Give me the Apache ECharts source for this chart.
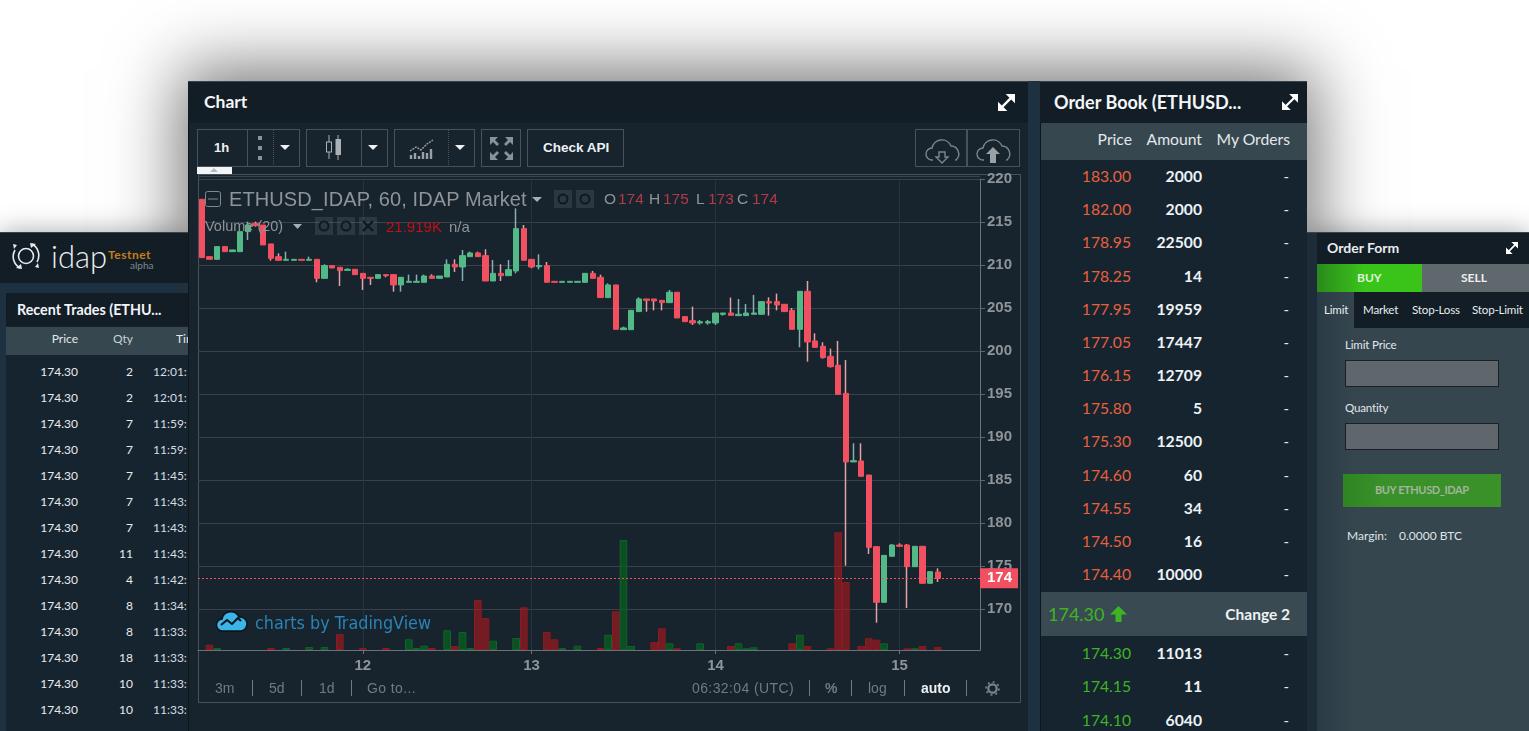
<!DOCTYPE html>
<html>
<head>
<meta charset="utf-8">
<script src="https://cdn.jsdelivr.net/npm/echarts@6/dist/echarts.min.js"></script>
<style>
html,body{margin:0;padding:0;background:#fff;}
#page{position:relative;width:1529px;height:731px;overflow:hidden;background:#fff;font-family:Lato,sans-serif;}
.box{position:absolute;box-sizing:border-box;}
.t{position:absolute;white-space:nowrap;line-height:1;}
#chart{position:absolute;left:0;top:0;width:1529px;height:731px;}
svg{position:absolute;overflow:visible;}
</style>
</head>
<body>
<div id="page"><div id="under"></div><div id="chart"></div><div id="over"></div></div>
<script>
// candles, hourly, from the left edge of the plot
var opens = [217.64,210.97,210.66,212.14,211.55,211.55,213.88,214.85,214.65,212.45,210.97,210.55,210.55,210.66,210.55,210.66,208.45,209.93,209.73,209.38,209.50,209.03,208.57,208.45,208.88,208.88,207.68,207.99,207.99,207.99,208.72,208.45,208.61,210.08,209.77,210.97,211.40,211.09,208.14,209.03,208.76,209.31,214.23,210.66,209.81,209.93,208.10,207.99,207.99,207.99,207.99,209.03,208.57,206.21,207.68,202.48,202.48,204.58,206.05,206.05,205.89,205.62,206.83,204.00,203.53,203.26,203.26,203.26,204.27,204.42,204.11,204.11,204.27,204.27,205.74,205.74,205.43,204.73,202.52,206.94,201.17,200.55,199.38,198.34,195.08,187.10,187.21,185.58,177.25,170.78,176.13,177.44,177.44,174.92,177.29,172.99,174.30];
var closes = [210.86,210.66,212.14,211.55,211.75,213.88,214.65,214.58,212.33,210.78,210.55,210.66,210.66,210.55,210.66,208.45,209.93,209.65,209.34,209.50,208.88,208.45,208.45,208.88,208.76,207.68,208.57,208.10,208.10,208.72,208.45,208.72,210.08,209.77,211.09,211.40,210.97,208.14,209.03,208.76,209.46,214.23,210.55,209.77,209.93,207.99,207.99,208.10,208.10,208.10,209.03,208.45,206.21,207.68,202.52,202.68,204.73,206.05,205.89,205.82,205.62,206.83,203.84,203.41,203.26,203.41,203.41,204.42,204.42,204.15,204.27,204.42,204.42,205.74,205.58,205.35,204.58,202.52,206.94,201.05,200.43,199.23,198.18,194.96,187.10,187.25,185.43,177.17,170.78,176.24,177.44,177.29,174.92,177.29,172.99,174.34,173.57];
var lows = [210.86,210.66,210.66,211.55,211.55,211.55,212.91,214.46,212.33,210.51,210.55,210.55,210.55,210.55,210.55,207.99,208.45,209.65,207.56,209.38,208.88,207.10,207.68,208.45,208.57,206.90,206.90,207.99,207.99,207.99,208.45,208.45,208.61,209.19,208.14,210.97,210.97,208.14,208.14,208.14,208.76,209.03,210.55,209.62,209.50,207.99,207.99,207.99,207.99,207.99,207.99,208.45,206.21,206.21,202.52,202.48,202.48,204.58,204.58,204.73,204.73,205.62,203.84,203.41,203.03,203.07,203.07,203.03,204.11,204.15,204.11,204.11,204.27,204.27,204.11,204.73,204.58,202.52,200.43,198.76,200.43,199.11,198.07,194.96,175.04,187.10,185.43,176.40,168.41,170.78,176.13,177.29,170.12,174.92,172.99,172.99,173.14];
var highs = [217.64,210.97,212.14,212.14,211.75,213.88,215.04,215.04,214.65,212.45,211.36,211.55,210.66,210.66,210.97,210.66,210.08,209.93,209.73,209.62,209.50,209.03,208.57,208.88,208.88,208.88,208.57,208.88,208.88,208.88,208.92,208.72,210.66,210.66,211.75,211.55,211.55,211.83,210.58,210.08,210.58,216.59,214.65,210.66,211.24,210.35,208.10,208.10,208.10,208.10,209.03,209.31,208.88,207.87,207.68,202.83,204.73,206.24,206.05,206.05,205.89,207.10,206.83,204.00,205.16,203.61,203.61,204.42,204.42,206.21,206.05,205.47,206.52,205.74,206.24,206.67,205.43,205.00,206.94,208.14,202.06,201.01,200.27,201.17,198.96,189.27,189.27,185.58,177.25,176.24,177.56,177.64,177.56,177.29,177.29,174.34,174.73];
// volume in thousands, null where no bar shows
var volumes = [null,38.7,14.6,null,null,null,null,null,null,14.6,null,14.6,null,null,21.9,null,21.9,null,116.8,null,null,14.6,null,null,14.6,null,null,78.1,14.6,31.4,14.6,null,143.8,29.2,131.4,14.6,365,233.6,67.9,null,null,87.6,311.7,null,null,131.4,78.1,14.6,null,31.4,null,null,14.6,111.7,282.5,803,29.2,null,null,58.4,158.4,48.9,12.4,null,null,48.9,null,null,null,29.2,48.9,12.4,19.7,null,null,null,null,48.9,111.7,29.2,null,null,12.4,859.2,496.4,null,29.2,85.4,75.2,48.9,null,null,12.4,12.4,29.2,null,21.9];
var dayTicks = {21:'12',43:'13',67:'14',91:'15'};
var slotCount = 102;

var tradeQty = [2,2,7,7,7,7,7,11,4,8,8,18,10,10];
var tradeTimes = ['12:01:','12:01:','11:59:','11:59:','11:45:','11:43:','11:43:','11:43:','11:42:','11:34:','11:33:','11:33:','11:33:','11:33:'];
var askPrices = ['183.00','182.00','178.95','178.25','177.95','177.05','176.15','175.80','175.30','174.60','174.55','174.50','174.40'];
var askAmounts = [2000,2000,22500,14,19959,17447,12709,5,12500,60,34,16,10000];
var bidPrices = ['174.30','174.15','174.10'];
var bidAmounts = [11013,11,6040];

var under = document.getElementById('under');
var over = document.getElementById('over');

function box(parent, x, y, w, h, css) {
    var d = document.createElement('div');
    d.className = 'box';
    d.style.cssText = 'left:' + x + 'px;top:' + y + 'px;width:' + w + 'px;height:' + h + 'px;' + (css || '');
    parent.appendChild(d);
    return d;
}
// x is the left edge, or the right edge when alignRight is set; y is the text middle
function text(parent, str, x, y, css, alignRight) {
    var d = document.createElement('div');
    d.className = 't';
    d.textContent = str;
    d.style.cssText = (alignRight ? 'right:' + (1529 - x) : 'left:' + x) + 'px;top:' + y + 'px;transform:translateY(-50%);' + (css || '');
    parent.appendChild(d);
    return d;
}
function svg(parent, x, y, w, h, inner) {
    var s = document.createElementNS('http://www.w3.org/2000/svg', 'svg');
    s.setAttribute('width', w); s.setAttribute('height', h);
    s.setAttribute('viewBox', '0 0 ' + w + ' ' + h);
    s.style.left = x + 'px'; s.style.top = y + 'px';
    s.innerHTML = inner;
    parent.appendChild(s);
}
function expandIcon(parent, x, y, s) {
    svg(parent, x, y, s, s, '<g stroke="#fff" stroke-width="' + (s * 0.14) + '" fill="#fff"><line x1="' + s * 0.2 + '" y1="' + s * 0.8 + '" x2="' + s * 0.8 + '" y2="' + s * 0.2 + '"/></g>' +
        '<polygon fill="#fff" points="' + s * 0.45 + ',0 ' + s + ',0 ' + s + ',' + s * 0.55 + '"/><polygon fill="#fff" points="0,' + s * 0.45 + ' 0,' + s + ' ' + s * 0.55 + ',' + s + '"/>');
}
var EDGE = '#48525a', PANEL = '#17232d', HEAD = '#121d26', BAND = '#37474f', GAP = '#1e3140';

// shadow plate and panels
box(under, 188, 81, 1119, 700, 'background:#17232d;box-shadow:0 -4px 65px 8px rgba(0,0,0,.55);');
box(under, 0, 232, 188, 499, 'background:' + GAP + ';border-top:1px solid #3a444c;box-shadow:0 0 25px rgba(0,0,0,.35);');
box(under, 1307, 232, 222, 499, 'background:#1c2c39;border-top:1px solid #3a444c;box-shadow:0 0 25px rgba(0,0,0,.35);');

// left: logo and recent trades
box(under, 0, 233, 188, 50, 'background:' + HEAD + ';');
svg(under, 11, 241, 30, 30, '<circle cx="15" cy="15" r="7.5" fill="none" stroke="#e8eaec" stroke-width="1.6"/><path d="M4 9A13 13 0 0 0 9 27M26 21A13 13 0 0 0 21 3" fill="none" stroke="#e8eaec" stroke-width="1.6"/><path d="M2 3l4 1-3 4zM28 27l-4-1 3-4zM5 27l5-4 1 5zM25 3l-5 4-1-5z" fill="#e8eaec"/>');
text(under, 'idap', 51, 256, 'font:300 31px Lato;color:#eef0f1;');
text(under, 'Testnet', 108, 254, 'font:700 12px Lato;color:#c67f16;letter-spacing:.5px;');
text(under, 'alpha', 130, 265, 'font:400 10px Lato;color:#7f8a91;');
box(under, 6, 293, 182, 438, 'background:#162430;');
box(under, 6, 293, 182, 33, 'background:' + HEAD + ';');
box(under, 6, 327, 182, 28, 'background:' + BAND + ';');
text(under, 'Recent Trades (ETHU...', 17, 309, 'font:700 14.3px Lato;color:#f2f5f7;');
text(under, 'Price', 78, 338, 'font:400 12px Lato;color:#e3e8ec;', true);
text(under, 'Qty', 133, 338, 'font:400 12px Lato;color:#c9d0d5;', true);
text(under, 'Tim', 176, 338, 'font:400 12px Lato;color:#e3e8ec;');
tradeQty.forEach(function(q, i) {
    var y = 371 + 26 * i;
    text(under, '174.30', 78, y, 'font:400 12px Lato;color:#e6ebee;', true);
    text(under, String(q), 133, y, 'font:400 12px Lato;color:#e6ebee;', true);
    text(under, tradeTimes[i], 153, y, 'font:400 12px Lato;color:#d7dde1;');
});

// centre: chart panel chrome
box(under, 188, 81, 840, 650, 'background:' + PANEL + ';border-left:1px solid #0e161c;');
box(under, 188, 81, 840, 42, 'background:' + HEAD + ';border-top:1px solid #3a444c;');
text(under, 'Chart', 204, 101, 'font:700 17.5px Lato;color:#f4f6f8;');
expandIcon(under, 998, 94, 17);
box(under, 1028, 81, 12, 650, 'background:' + GAP + ';');

[[197, 103], [306, 82], [394, 81], [481, 40], [527, 97], [915, 52], [967, 53]].forEach(function(b) {
    box(under, b[0], 129, b[1], 38, 'border:1px solid ' + EDGE + ';');
});
[247, 361, 967].forEach(function(x) { box(under, x, 129, 1, 38, 'background:' + EDGE + ';'); });
[273, 448].forEach(function(x) { box(under, x, 129, 0, 38, 'border-left:1px dotted ' + EDGE + ';'); });
text(under, '1h', 214, 147, 'font:700 13px "Liberation Sans";color:#eef1f3;');
text(under, 'Check API', 543, 147, 'font:700 13.5px "Liberation Sans";color:#eef1f3;');
svg(under, 256, 136, 8, 24, '<rect x="2" width="4" height="4" fill="#8b9297"/><rect x="2" y="10" width="4" height="4" fill="#8b9297"/><rect x="2" y="20" width="4" height="4" fill="#8b9297"/>');
[285, 373, 460].forEach(function(x) { svg(under, x - 5, 145, 10, 5, '<polygon points="0,0 10,0 5,5" fill="#eef1f3"/>'); });
svg(under, 324, 135, 20, 26, '<path d="M5 0v7M5 17v7M14 0v4M14 20v5" stroke="#aab0b4"/><rect x="2.5" y="7" width="5" height="10" fill="none" stroke="#aab0b4"/><rect x="11.5" y="4" width="5.5" height="16" fill="#aab0b4"/>');
svg(under, 409, 138, 26, 22, '<path d="M1 13l6-4 5 3 6-6 6-4" fill="none" stroke="#9aa1a6" stroke-width="1.4" stroke-dasharray="2 1"/><path d="M2 21v-4M6 21v-6M10 21v-3M14 21v-7M18 21v-6M22 21v-10" stroke="#9aa1a6" stroke-width="2.4"/>');
svg(under, 490, 137, 23, 23, '<g fill="#8b9297"><polygon points="0,0 8,0 5,3 9,7 7,9 3,5 0,8"/><polygon points="23,0 15,0 18,3 14,7 16,9 20,5 23,8"/><polygon points="0,23 8,23 5,20 9,16 7,14 3,18 0,15"/><polygon points="23,23 15,23 18,20 14,16 16,14 20,18 23,15"/></g>');
var cloud = 'M8 24H7a6 6 0 0 1 0-12 10 10 0 0 1 19-2 8 8 0 0 1 5 14h-1';
svg(under, 925, 136, 34, 28, '<path d="' + cloud + '" fill="none" stroke="#7d858a" stroke-width="1.4"/><path d="M14 16h6v5h3l-6 6-6-6h3z" fill="none" stroke="#7d858a" stroke-width="1.4"/>');
svg(under, 976, 136, 34, 28, '<path d="' + cloud + '" fill="none" stroke="#7d858a" stroke-width="1.4"/><path d="M14 27v-9h-4l7-7 7 7h-4v9z" fill="#9aa1a6"/>');
box(under, 197, 167, 35, 7, 'background:#f4f5f6;');
svg(under, 210, 168, 8, 4, '<polygon points="0,4 8,4 4,0" fill="#b5b9bc"/>');
box(under, 198, 174, 823, 529, 'border:1px solid ' + EDGE + ';');
box(under, 199, 176, 781, 1, 'background:#3a424b;');

// over the plot: legend rows, watermark, footer
var dim = '#8f9498', redLegend = '#b33a47';
svg(over, 205, 191, 16, 16, '<rect x=".5" y=".5" width="15" height="15" rx="2" fill="none" stroke="#83888d"/><line x1="3" y1="8" x2="13" y2="8" stroke="#83888d"/>');
text(over, 'ETHUSD_IDAP, 60, IDAP Market', 229, 199, 'font:400 20px "Liberation Sans";color:' + dim + ';letter-spacing:.1px;');
svg(over, 532, 197, 10, 5, '<polygon points="0,0 10,0 5,5" fill="#a8adb1"/>');
[[554, 190], [576, 190], [315, 217], [337, 217], [359, 217]].forEach(function(b) {
    box(over, b[0], b[1], 18, 18, 'background:rgba(120,130,140,.22);');
});
[[563, 199], [585, 199], [324, 226], [346, 226]].forEach(function(c) {
    svg(over, c[0] - 6, c[1] - 6, 12, 12, '<circle cx="6" cy="6" r="4.5" fill="none" stroke="#11181f" stroke-width="2"/>');
});
svg(over, 362, 220, 12, 12, '<path d="M1 1L11 11M11 1L1 11" stroke="#11181f" stroke-width="2.4"/>');
var ohlc = [['O', 604, '174', 618], ['H', 649, '175', 663], ['L', 696, '173', 708], ['C', 737, '174', 752]];
ohlc.forEach(function(r) {
    text(over, r[0], r[1], 199, 'font:400 15.5px "Liberation Sans";color:' + dim + ';');
    text(over, r[2], r[3], 199, 'font:400 15.5px "Liberation Sans";color:' + redLegend + ';');
});
text(over, 'Volume (20)', 205, 226, 'font:400 14.5px "Liberation Sans";color:' + dim + ';');
svg(over, 293, 224, 9, 5, '<polygon points="0,0 9,0 4.5,5" fill="#a8adb1"/>');
text(over, '21.919K', 386, 226, 'font:400 15px "Liberation Sans";color:#c40f18;');
text(over, 'n/a', 449, 226, 'font:400 15px "Liberation Sans";color:' + dim + ';');
svg(over, 216, 610, 31, 22, '<path d="M7 21a6 6 0 0 1-1-12 9 9 0 0 1 17-2 7 7 0 0 1 2 14z" fill="#3bb4e8" stroke="#0a1318" stroke-width="1.5"/><path d="M5 15l6-5 5 4 6-6 3 3" fill="none" stroke="#0a1318" stroke-width="2"/>');
text(over, 'charts by TradingView', 255, 622, 'font:400 17.8px "DejaVu Sans Condensed","Liberation Sans";color:#2a84b5;');
var foot = 'font:400 14px "Liberation Sans";color:#727a80;';
text(over, '3m', 215, 688, foot);
text(over, '5d', 269, 688, foot);
text(over, '1d', 319, 688, foot);
text(over, 'Go to...', 367, 688, foot + 'letter-spacing:.4px;');
text(over, '06:32:04 (UTC)', 692, 688, foot + 'letter-spacing:.4px;');
text(over, '%', 825, 688, foot + 'font-weight:700;');
text(over, 'log', 868, 688, foot);
text(over, 'auto', 921, 688, 'font:700 14px "Liberation Sans";color:#eef1f3;');
[252, 301, 351, 809, 851, 904, 966].forEach(function(x) { box(over, x, 680, 1, 16, 'background:#707a80;'); });
svg(over, 985, 681, 15, 15, '<circle cx="7.5" cy="7.5" r="4.2" fill="none" stroke="#7d858a" stroke-width="2.2"/><circle cx="7.5" cy="7.5" r="6.5" fill="none" stroke="#7d858a" stroke-width="1.6" stroke-dasharray="2 3"/>');

// order book
box(under, 1040, 81, 267, 650, 'background:#162430;border-left:1px solid #0e161c;');
box(under, 1040, 81, 267, 42, 'background:' + HEAD + ';border-top:1px solid #3a444c;');
box(under, 1041, 123, 266, 37, 'background:' + BAND + ';');
box(under, 1041, 592, 266, 44, 'background:#3a4a53;');
text(under, 'Order Book (ETHUSD...', 1054, 102, 'font:700 18px Lato;color:#f4f6f8;');
expandIcon(under, 1282, 94, 16);
var bookHead = 'font:400 15.7px Lato;color:#e3e8ec;';
text(under, 'Price', 1132, 139, bookHead, true);
text(under, 'Amount', 1202, 139, bookHead, true);
text(under, 'My Orders', 1290, 139, bookHead, true);
function bookRow(price, amount, y, colour) {
    text(under, price, 1131, y, 'font:400 15.7px Lato;color:' + colour + ';', true);
    text(under, String(amount), 1202, y, 'font:700 15.7px Lato;color:#eef2f4;', true);
    text(under, '-', 1289, y, 'font:400 15px Lato;color:#dfe4e7;', true);
}
var askY = [176, 209, 242, 276, 309, 342, 375, 408, 441, 475, 508, 541, 574];
var bidY = [653, 686, 720];
askPrices.forEach(function(p, i) { bookRow(p, askAmounts[i], askY[i], '#e8603c'); });
bidPrices.forEach(function(p, i) { bookRow(p, bidAmounts[i], bidY[i], '#3db522'); });
text(under, '174.30', 1048, 614, 'font:400 18px Lato;color:#3db522;');
svg(under, 1110, 606, 17, 16, '<path d="M8.5 0L17 8.5h-5.5V16h-6V8.5H0z" fill="#3db522"/>');
text(under, 'Change 2', 1290, 614, 'font:700 15.5px Lato;color:#eef2f4;', true);

// order form
box(under, 1317, 233, 212, 498, 'background:linear-gradient(90deg,#2b3b45,#36464f 18%);');
box(under, 1317, 233, 212, 31, 'background:' + HEAD + ';');
text(under, 'Order Form', 1327, 247, 'font:700 14px Lato;color:#e9edf0;');
expandIcon(under, 1506, 242, 12);
box(under, 1317, 264, 105, 28, 'background:linear-gradient(90deg,#2a8a1c,#3ac41a 45%);');
box(under, 1422, 264, 107, 28, 'background:#5f686c;');
text(under, 'BUY', 1357, 277, 'font:700 12px Lato;color:#dff3dc;');
text(under, 'SELL', 1461, 277, 'font:700 12px Lato;color:#eef1f2;');
box(under, 1354, 292, 175, 36, 'background:' + HEAD + ';');
[['Limit', 1324], ['Market', 1363], ['Stop-Loss', 1412], ['Stop-Limit', 1472]].forEach(function(tab) {
    text(under, tab[0], tab[1], 309, 'font:400 11.6px Lato;color:#e6ebee;letter-spacing:-.2px;');
});
text(under, 'Limit Price', 1345, 344, 'font:400 11.6px Lato;color:#e0e5e8;letter-spacing:-.2px;');
box(under, 1345, 360, 154, 27, 'background:#5f676d;border:1px solid #1a2025;');
text(under, 'Quantity', 1345, 407, 'font:400 11.6px Lato;color:#e0e5e8;letter-spacing:-.2px;');
box(under, 1345, 423, 154, 27, 'background:#5f676d;border:1px solid #1a2025;');
box(under, 1343, 474, 158, 33, 'background:linear-gradient(90deg,#2f8423,#3a912a 25%);');
text(under, 'BUY ETHUSD_IDAP', 1375, 489, 'font:700 11px Lato;color:#a2b49c;letter-spacing:-.4px;');
text(under, 'Margin:', 1347, 535, 'font:400 12px Lato;color:#dfe4e7;');
text(under, '0.0000 BTC', 1399, 535, 'font:400 12px Lato;color:#dfe4e7;');

// plot
var slots = [];
for (var i = 0; i < slotCount; i++) slots.push(String(i));
var UP = '#53b987', DOWN = '#f0505f';
var wickData = opens.map(function(o, i) { return [o, closes[i], lows[i], highs[i]]; });
var bodyData = opens.map(function(o, i) { return [o, closes[i], Math.min(o, closes[i]), Math.max(o, closes[i])]; });
var volumeData = volumes.map(function(v, i) {
    if (v === null) return null;
    var up = closes[i] > opens[i];
    return {
        value: v,
        itemStyle: up ? {color: 'rgba(5,100,30,.7)', borderColor: '#12632c', borderWidth: 1}
                      : {color: 'rgba(175,25,30,.6)', borderColor: '#8e1a20', borderWidth: 1}
    };
});
function isDay(index) { return dayTicks[index] !== undefined; }
var labelFont = {color: '#8f9498', fontWeight: 'bold', fontSize: 15, fontFamily: '"Liberation Sans"'};

var chart = echarts.init(document.getElementById('chart'), null, {renderer: 'canvas'});
chart.setOption({
    animation: false,
    backgroundColor: 'transparent',
    grid: [
        {left: 198, top: 179, width: 782, height: 473},
        {left: 198, top: 179, width: 782, height: 471}
    ],
    xAxis: [
        {type: 'category', gridIndex: 0, data: slots, boundaryGap: true, show: false},
        {type: 'category', gridIndex: 1, data: slots, boundaryGap: true,
            axisLine: {show: true, lineStyle: {color: '#6a7278', width: 1}},
            axisTick: {show: true, alignWithLabel: true, length: 4, interval: isDay, lineStyle: {color: '#6a7278'}},
            axisLabel: Object.assign({interval: isDay, margin: 8, formatter: function(v, i) { return dayTicks[i] || ''; }}, labelFont),
            splitLine: {show: true, alignWithLabel: true, interval: isDay, lineStyle: {color: '#29333d'}}
        }
    ],
    yAxis: [
        {type: 'value', gridIndex: 0, position: 'right', min: 165, max: 220, interval: 5,
            axisLine: {show: false},
            axisTick: {show: true, length: 5, lineStyle: {color: '#5f676d'}},
            axisLabel: Object.assign({margin: 7, showMinLabel: false}, labelFont),
            splitLine: {show: true, showMinLine: false, lineStyle: {color: '#3a414b'}}
        },
        {type: 'value', gridIndex: 1, position: 'right', min: 0, max: 3438,
            axisLine: {show: true, lineStyle: {color: '#6a7278'}},
            axisTick: {show: false}, axisLabel: {show: false}, splitLine: {show: false}
        }
    ],
    series: [
        {name: 'Volume', type: 'bar', xAxisIndex: 1, yAxisIndex: 1, data: volumeData, barWidth: '100%', z: 2},
        {name: 'Wicks', type: 'candlestick', xAxisIndex: 0, yAxisIndex: 0, data: wickData, barWidth: 1, z: 3,
            itemStyle: {color: '#86b0b4', color0: '#e2a3a9', borderColor: '#86b0b4', borderColor0: '#e2a3a9', borderWidth: 1.5}
        },
        {name: 'ETHUSD_IDAP', type: 'candlestick', xAxisIndex: 0, yAxisIndex: 0, data: bodyData, barWidth: 6, z: 4,
            itemStyle: {color: UP, color0: DOWN, borderColor: UP, borderColor0: DOWN, borderWidth: 1},
            markLine: {
                silent: true, symbol: 'none', animation: false,
                data: [{yAxis: closes[closes.length - 1]}],
                lineStyle: {color: DOWN, type: [2, 2], width: 1},
                label: {
                    position: 'end', distance: 0, color: '#fff', fontWeight: 'bold', fontSize: 15, fontFamily: '"Liberation Sans"',
                    backgroundColor: DOWN, padding: [3, 6, 2, 7], formatter: function(p) { return String(Math.round(p.value)); }
                }
            }
        }
    ]
});
</script>
</body>
</html>
